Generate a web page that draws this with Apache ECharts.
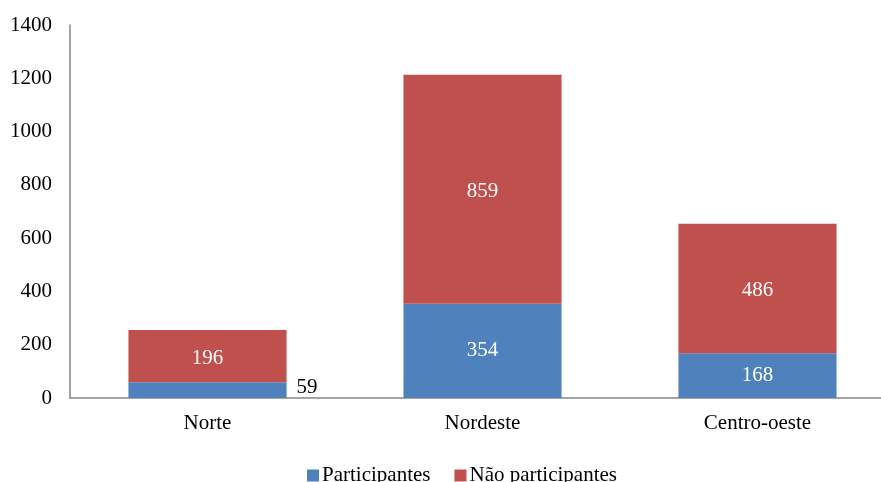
<!DOCTYPE html>
<html><head><meta charset="utf-8">
<script src="https://cdn.jsdelivr.net/npm/echarts@6/dist/echarts.min.js"></script>
<style>html,body{margin:0;padding:0;background:#fff}#c{width:881px;height:482px}</style>
</head><body><div id="c"></div>
<script>
var categories = ['Norte', 'Nordeste', 'Centro-oeste'];
var participantes = [59, 354, 168];
var naoParticipantes = [196, 859, 486];
var yTicks = [0, 200, 400, 600, 800, 1000, 1200, 1400];

var font = '"Liberation Serif", "Times New Roman", serif';
var chart = echarts.init(document.getElementById('c'));
chart.setOption({
  animation: false,
  backgroundColor: '#fff',
  textStyle: { fontFamily: font },
  grid: { left: 70, width: 825, top: 25, height: 373, containLabel: false, outerBoundsMode: 'none' },
  legend: {
    left: 302, top: 460, itemWidth: 12, itemHeight: 12, itemGap: 24,
    icon: 'rect',
    textStyle: { fontFamily: font, fontSize: 21, color: '#000', padding: [0, 0, 0, -2] },
    data: ['Participantes', 'Não participantes']
  },
  xAxis: {
    type: 'category', data: categories,
    axisLine: { lineStyle: { color: '#868686', width: 1.5 } },
    axisTick: { show: false },
    axisLabel: { fontFamily: font, fontSize: 21, color: '#000', margin: 15 }
  },
  yAxis: {
    type: 'value', min: 0, max: 1400, interval: 200,
    axisLine: { show: true, lineStyle: { color: '#868686', width: 1.5 } },
    axisTick: { show: false },
    splitLine: { show: false },
    axisLabel: { fontFamily: font, fontSize: 21, color: '#000', margin: 18,
      formatter: function (v) { return yTicks.indexOf(v) >= 0 ? String(v) : ''; } }
  },
  series: [
    {
      name: 'Participantes', type: 'bar', stack: 't', barWidth: '57.5%',
      itemStyle: { color: '#4F81BD' },
      data: participantes.map(function (v, i) {
        return i === 0 ? { value: v, label: { position: 'right', color: '#000', offset: [5, -3] } } : v;
      }),
      label: { show: true, position: 'inside', color: '#fff', fontFamily: font, fontSize: 21 }
    },
    {
      name: 'Não participantes', type: 'bar', stack: 't', barWidth: '57.5%',
      itemStyle: { color: '#C0504D' },
      data: naoParticipantes,
      label: { show: true, position: 'inside', color: '#fff', fontFamily: font, fontSize: 21, offset: [0, 2] }
    }
  ]
});
</script></body></html>
